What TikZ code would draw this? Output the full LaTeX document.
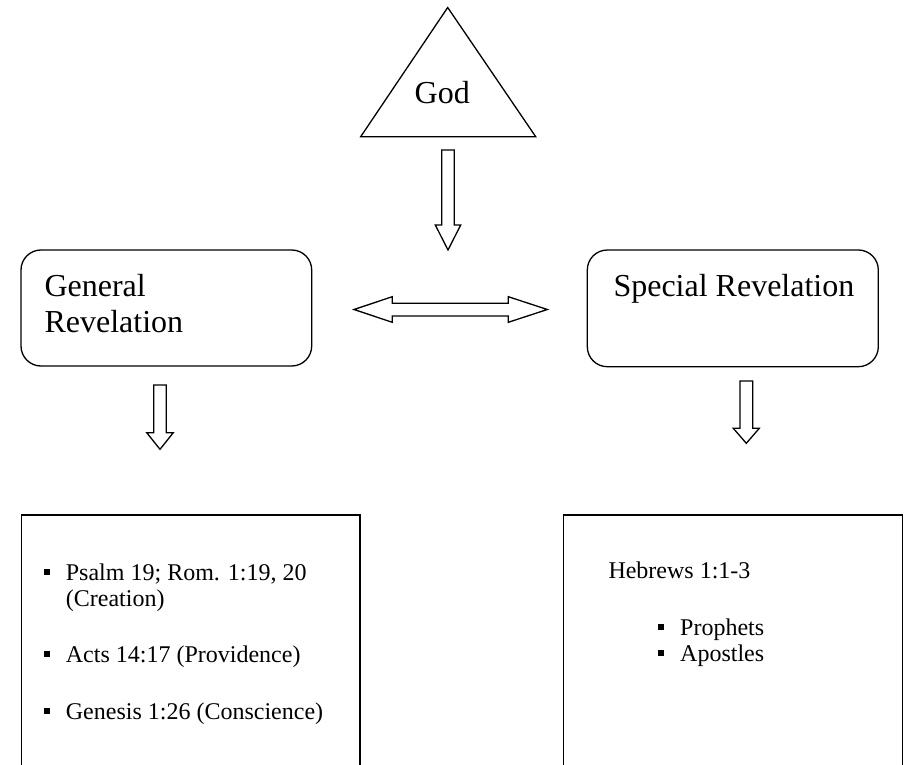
\documentclass[tikz,border=0pt]{standalone}
\usepackage{fontspec}
\setmainfont{Liberation Serif}
\begin{document}
\begin{tikzpicture}[x=1pt,y=-1pt,
  line/.style={line width=1.3pt,line join=miter},
  head/.style={font=\fontsize{32}{36}\selectfont,anchor=base west,inner sep=0pt},
  body/.style={font=\fontsize{24}{28}\selectfont,anchor=base west,inner sep=0pt},
  bul/.style={fill=black,minimum size=6pt,inner sep=0pt,outer sep=0pt}]
\useasboundingbox (0,0) rectangle (905,765);
% God triangle
\coordinate (tA) at (447.7,7.5);
\coordinate (tL) at (360.7,136.7);
\coordinate (tR) at (535.7,136.7);
\draw[line] (tA) -- (tL) -- (tR) -- cycle;
\node[head] (god) at (414.5,104) {God};
% down arrow from God
\draw[line] (441.7,150) -- (454.3,150) -- (454.3,225) -- (460.7,225) -- (448,250) -- (435.3,225) -- (441.7,225) -- cycle;
% boxes
\draw[line,rounded corners=20pt] (21,250) rectangle (311.7,366);
\draw[line,rounded corners=20pt] (587.3,250) rectangle (878.3,366.7);
\node[head] (gen1) at (44.3,296) {General};
\node[head] (gen2) at (44.3,332) {Revelation};
\node[head] (spec) at (613.3,296) {Special Revelation};
% double arrow
\draw[line] (354,309.5) -- (392.3,296.7) -- (392.3,303.3) -- (508.3,303.3) -- (508.3,296.7) -- (547.3,309.5) -- (508.3,322.3) -- (508.3,316) -- (392.3,316) -- (392.3,322.3) -- cycle;
% down arrows
\draw[line] (153.7,385) -- (166.3,385) -- (166.3,432.7) -- (173.3,432.7) -- (160,449.3) -- (146.7,432.7) -- (153.7,432.7) -- cycle;
\draw[line] (740,381) -- (752.7,381) -- (752.7,428.3) -- (759.3,428.3) -- (746.3,443.3) -- (733.3,428.3) -- (740,428.3) -- cycle;
% bottom boxes (continuing past the lower edge)
\draw[line] (21.7,766) -- (21.7,515) -- (360,515) -- (360,766);
\draw[line] (563.3,766) -- (563.3,515) -- (902.3,515) -- (902.3,766);
% left list
\node[bul] (b1) at (46.7,572) {};
\node[body] (l1) at (65.7,580) {Psalm 19; Rom. 1:19, 20};
\node[body] (l1b) at (65.7,606) {(Creation)};
\node[bul] (b2) at (46.7,654) {};
\node[body] (l2) at (65.7,662) {Acts 14:17 (Providence)};
\node[bul] (b3) at (46.7,711) {};
\node[body] (l3) at (65.7,719) {Genesis 1:26 (Conscience)};
% right list
\node[body] (heb) at (608.3,578) {Hebrews 1:1-3};
\node[bul] (b4) at (661,627) {};
\node[body] (r1) at (680,635) {Prophets};
\node[bul] (b5) at (661,653) {};
\node[body] (r2) at (680,661) {Apostles};
\end{tikzpicture}
\end{document}
